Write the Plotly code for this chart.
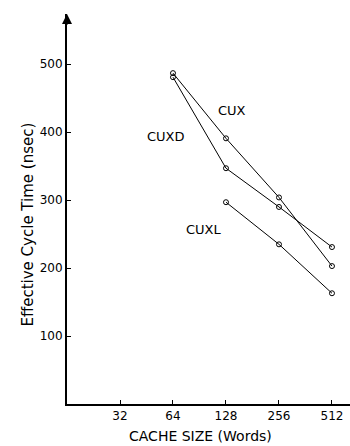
import plotly.graph_objects as go
import math

cache_sizes = [64, 128, 256, 512]
cux = [487, 391, 304, 203]
cuxd = [481, 347, 290, 231]
cuxl_sizes = [128, 256, 512]
cuxl = [297, 235, 163]

x_ticks = [32, 64, 128, 256, 512]
y_ticks = [100, 200, 300, 400, 500]

series_labels = ["CUX", "CUXD", "CUXL"]
label_x = [138, 58.5, 95]
label_y = [432, 393, 257]

FONT = "DejaVu Sans"

fig = go.Figure()
mk = dict(symbol="circle-open", size=5, color="black", line=dict(width=1, color="black"))
for name, xs, ys in [("CUX", cache_sizes, cux), ("CUXD", cache_sizes, cuxd), ("CUXL", cuxl_sizes, cuxl)]:
    fig.add_trace(go.Scatter(x=xs, y=ys, mode="lines+markers", name=name,
                             line=dict(color="black", width=1), marker=mk,
                             showlegend=False))

for t, lx, ly in zip(series_labels, label_x, label_y):
    fig.add_annotation(x=math.log10(lx), y=ly, xref="x", yref="y", text=t,
                       showarrow=False, font=dict(family=FONT, size=13, color="black"))

# axis titles
fig.add_annotation(xref="paper", yref="paper", x=0, y=0.46, xshift=-39,
                   xanchor="center", yanchor="middle",
                   text="Effective Cycle Time (nsec)",
                   textangle=-90, showarrow=False, font=dict(family=FONT, size=15, color="black"))
fig.add_annotation(xref="paper", yref="paper", x=0.47, y=0, yshift=-32, yanchor="middle",
                   text="CACHE SIZE (Words)", showarrow=False,
                   font=dict(family=FONT, size=14, color="black"))
# arrow tip of y axis
fig.add_annotation(xref="paper", yref="paper", x=0, y=1.0, ax=0, ay=12, text="",
                   showarrow=True, arrowhead=2, arrowsize=1, arrowwidth=2, arrowcolor="black")

fig.update_xaxes(type="log", range=[math.log10(16), math.log10(2 ** 9.34)],
                 tickvals=x_ticks, ticktext=[str(v) for v in x_ticks],
                 ticks="inside", ticklen=4, tickcolor="black", tickwidth=1,
                 showline=True, linecolor="black", linewidth=1.5,
                 showgrid=False, zeroline=False,
                 tickfont=dict(family=FONT, size=12, color="black"))
fig.update_yaxes(range=[0, 574], tickvals=y_ticks,
                 ticks="inside", ticklen=4, tickcolor="black", tickwidth=1,
                 showline=True, linecolor="black", linewidth=2,
                 showgrid=False, zeroline=False,
                 tickfont=dict(family=FONT, size=12, color="black"))

fig.update_layout(width=350, height=446, margin=dict(l=67, r=0, t=14, b=42),
                  plot_bgcolor="white", paper_bgcolor="white")

fig.write_html("out.html")
